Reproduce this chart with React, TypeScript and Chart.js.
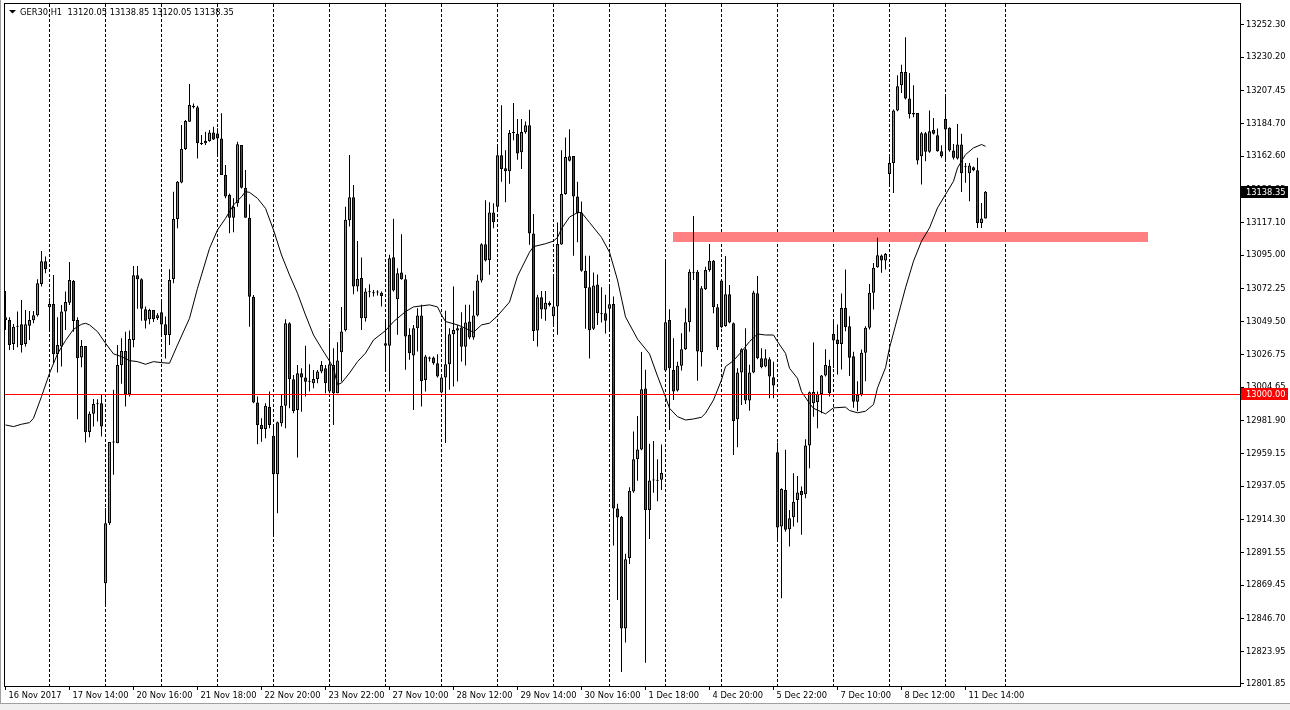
import { useEffect, useRef } from "react";
import { Chart, registerables } from "chart.js";

Chart.register(...registerables);

// ---- Data (GER30, H1) ----
const opens = [
13052.5,13050.7,13034.3,13046.8,13047.7,13034.3,13046.8,13050.5,13053.9,13075.3,
13090.8,13059.3,13061.6,13027.2,13032.5,13056.4,13062.5,13077.3,13050.7,13025.0,
13032.9,12974.1,12986.5,12993.3,12993.7,12870.7,12911.7,12967.3,12966.4,13019.9,
13029.5,12999.9,13037.0,13081.2,13078.5,13058.0,13051.1,13057.5,13051.8,13055.9,
13047.7,13040.4,13078.7,13119.7,13144.7,13167.5,13186.2,13197.1,13196.0,13171.6,
13171.4,13173.0,13178.9,13178.2,13174.8,13149.8,13136.1,13120.6,13130.4,13170.3,
13141.1,13120.6,13066.6,12994.2,12978.9,12976.2,12991.4,12971.6,12945.2,12980.0,
12992.1,13048.4,13010.1,12989.2,13014.2,13011.3,13008.9,13007.4,13010.3,13015.4,
13017.6,13001.7,13019.9,13000.6,13028.6,13043.7,13118.9,13134.6,13073.5,13079.4,
13051.9,13070.1,13069.6,13069.5,13069.2,13034.8,13033.0,13093.6,13064.9,13083.1,
13078.5,13040.5,13026.4,13045.0,13053.7,13009.7,13025.0,13025.0,13021.1,13001.1,
13011.3,13020.4,13040.9,13043.5,13045.5,13032.3,13049.6,13038.7,13053.7,13077.6,
13102.4,13091.7,13124.1,13128.1,13163.3,13154.4,13152.4,13178.5,13178.0,13165.3,
13179.0,13183.8,13109.7,13043.4,13066.2,13057.8,13062.4,13053.3,13059.8,13102.3,
13136.7,13159.5,13162.8,13135.0,13124.1,13084.4,13073.0,13044.7,13075.0,13055.3,
13055.3,13058.3,13061.6,12921.8,12916.2,12839.8,12887.9,12933.4,12955.4,12962.2,
13003.9,12920.8,12941.0,12941.5,12941.5,13016.1,13050.7,13016.5,13002.4,13019.3,
13030.6,13049.1,13083.7,13083.7,13028.6,13071.6,13084.9,13091.2,13059.3,13077.6,
13046.6,13068.2,13048.4,12982.8,13014.7,13030.6,12995.6,13014.7,13068.9,13024.5,
13018.8,13023.8,13011.5,12960.3,12909.5,12934.5,12907.6,12915.8,12927.7,12933.8,
12931.6,12964.8,12993.7,12994.4,13000.1,13012.7,13019.3,13041.2,13037.3,13034.3,
13058.9,13046.4,13025.9,12994.7,12999.7,13028.2,13045.3,13069.2,13086.7,13094.7,
13091.3,13150.5,13158.0,13193.8,13211.1,13220.2,13202.0,13192.2,13192.2,13162.6,
13178.3,13165.6,13180.6,13177.0,13166.0,13188.1,13182.0,13166.5,13161.0,13170.6,
13155.8,13151.0,13155.1,13153.0,13117.0,13120.05
];

const highs = [
13070.5,13052.5,13048.0,13056.4,13064.4,13057.5,13056.8,13056.8,13078.5,13097.8,
13094.0,13065.5,13081.4,13052.5,13060.9,13070.1,13090.3,13078.0,13052.5,13037.0,
13032.9,12988.1,12996.7,12996.5,12999.4,12922.0,12967.3,13002.9,13033.6,13038.2,
13042.7,13043.4,13087.6,13087.6,13079.2,13059.8,13058.4,13057.5,13055.2,13064.4,
13053.0,13085.3,13138.4,13145.7,13183.9,13187.3,13211.9,13198.7,13197.1,13177.1,
13179.4,13180.5,13182.8,13181.7,13191.9,13156.6,13137.2,13133.8,13172.5,13170.3,
13153.2,13129.7,13067.8,12998.3,12983.5,12993.7,13001.7,12978.9,12981.2,12999.4,
13051.1,13049.1,13013.1,13019.9,13017.6,13033.1,13020.4,13016.5,13016.5,13022.6,
13019.9,13045.0,13031.4,13035.5,13059.6,13128.0,13163.5,13143.0,13104.7,13093.3,
13072.4,13075.1,13071.2,13071.0,13070.1,13049.6,13095.2,13119.8,13086.0,13109.3,
13081.5,13045.0,13047.3,13058.7,13061.0,13026.8,13025.7,13025.7,13027.3,13012.0,
13056.9,13045.0,13073.5,13047.3,13056.0,13061.0,13061.0,13070.6,13081.5,13103.1,
13132.5,13131.2,13130.5,13169.2,13197.4,13166.6,13180.5,13198.9,13188.1,13188.1,
13186.3,13194.4,13123.1,13067.9,13070.5,13070.5,13063.4,13081.8,13117.3,13166.6,
13175.4,13181.0,13162.8,13145.1,13131.7,13094.5,13094.5,13083.1,13081.8,13073.0,
13067.9,13075.0,13066.7,12925.1,12916.7,12890.9,12936.4,12974.4,12985.0,13028.7,
13016.6,12966.0,12968.0,12955.4,12965.5,13090.6,13058.0,13038.2,13022.2,13041.6,
13058.7,13085.3,13121.8,13084.9,13073.9,13087.1,13102.6,13091.7,13061.6,13078.0,
13094.4,13074.6,13048.9,13017.7,13031.3,13045.0,13020.0,13070.7,13080.8,13031.3,
13030.6,13025.2,13022.2,12966.9,12935.7,12961.9,12920.8,12945.9,12944.1,12936.8,
12969.1,13001.7,13035.2,13001.7,13013.1,13030.6,13023.4,13049.8,13047.6,13068.7,
13085.1,13053.2,13028.9,13008.8,13030.5,13046.4,13075.3,13089.7,13106.8,13095.4,
13096.5,13162.6,13194.5,13218.0,13225.2,13243.9,13219.5,13211.1,13192.2,13179.2,
13179.2,13193.8,13188.8,13181.5,13170.1,13205.2,13182.4,13171.0,13184.7,13177.9,
13158.0,13158.0,13155.5,13161.5,13130.7,13138.85
];

const lows = [
13043.9,13030.2,13030.2,13032.0,13028.4,13032.5,13037.0,13048.4,13053.0,13073.5,
13082.6,13043.9,13021.1,13014.7,13018.8,13043.9,13060.9,13042.7,12982.8,13018.3,
12966.9,12970.5,12977.8,12981.2,12971.0,12854.8,12910.6,12944.8,12966.4,13007.0,
12991.5,12998.3,13032.0,13058.4,13050.2,13044.8,13047.7,13049.3,13050.7,13040.0,
13024.3,13033.6,13075.7,13113.3,13144.1,13166.8,13186.2,13195.3,13161.1,13170.3,
13170.3,13172.5,13173.7,13162.3,13149.8,13133.8,13109.9,13110.6,13128.1,13140.6,
13120.6,13046.1,12993.7,12965.7,12967.5,12969.8,12976.6,12904.2,12918.5,12977.8,
12976.6,12990.3,12986.9,12956.6,12988.0,12998.3,13001.7,13004.0,13007.4,13014.2,
13000.6,13000.6,12978.9,13000.6,13008.6,13042.8,13114.5,13068.3,13070.1,13043.9,
13049.6,13066.2,13066.7,13067.4,13059.8,13015.4,13001.8,13070.1,13040.5,13078.1,
13016.6,13023.4,12989.2,13029.1,12991.5,13001.8,13022.3,13020.0,13011.3,13000.6,
12966.5,13002.9,13005.2,13008.6,13022.3,13019.5,13037.5,13037.1,13053.0,13076.3,
13090.6,13081.5,13113.4,13125.9,13145.1,13131.2,13143.8,13173.6,13160.2,13153.9,
13178.0,13102.1,13036.3,13032.5,13051.5,13050.2,13059.8,13047.7,13040.6,13102.1,
13136.2,13159.0,13094.5,13103.8,13083.6,13044.7,13024.4,13043.9,13047.2,13049.0,
13041.4,13042.6,12896.5,12859.3,12810.0,12830.2,12883.8,12932.6,12940.7,12961.7,
12816.3,12901.0,12932.6,12926.8,12934.4,13015.4,12975.5,12996.0,13001.7,13016.1,
13030.2,13042.7,13078.0,13009.2,13018.8,13071.2,13083.7,13055.2,13030.2,13045.0,
13046.1,13048.4,12958.4,12963.7,12992.6,12993.3,12988.7,13014.2,13023.8,13017.7,
13018.3,12997.2,12997.2,12900.4,12860.5,12906.0,12895.8,12909.5,12912.2,12903.8,
12928.8,12949.3,12984.6,12976.7,12986.9,13012.0,12998.3,13017.9,13013.4,13016.8,
13043.0,13012.3,12990.6,12988.3,12998.6,13008.8,13044.1,13057.8,13086.3,13082.9,
13085.1,13142.1,13137.5,13193.3,13205.9,13201.3,13188.3,13189.3,13156.9,13143.2,
13159.2,13164.9,13177.4,13165.6,13161.5,13160.3,13165.6,13160.3,13160.3,13138.2,
13144.4,13131.8,13152.3,13113.6,13113.6,13120.05
];

const closes = [
13050.7,13033.6,13046.1,13046.1,13033.6,13047.7,13050.7,13053.9,13075.8,13090.8,
13085.3,13061.6,13027.2,13033.6,13056.4,13063.0,13078.0,13050.0,13024.5,13032.9,
12973.9,12986.5,12993.3,12993.0,12977.8,12911.7,12967.3,12966.9,13019.9,13029.5,
12999.9,13037.7,13081.2,13078.5,13058.4,13050.2,13057.5,13051.1,13053.9,13047.5,
13040.4,13078.0,13119.7,13145.2,13167.5,13186.7,13197.6,13196.0,13171.4,13170.9,
13173.2,13178.9,13174.1,13174.8,13149.8,13135.0,13120.6,13128.1,13170.7,13141.1,
13120.6,13066.6,12994.2,12978.9,12976.2,12992.1,12978.9,12945.2,12980.7,12992.1,
13048.4,13010.1,12988.5,13014.2,13011.3,13008.5,13008.5,13010.3,13015.4,13019.9,
13007.4,13020.4,13000.6,13022.9,13042.8,13119.1,13134.6,13073.5,13078.8,13051.9,
13070.1,13069.6,13069.0,13070.1,13067.1,13033.0,13092.9,13070.8,13082.6,13078.5,
13039.3,13028.0,13045.0,13053.7,13009.0,13025.7,13024.1,13021.1,13012.0,13011.3,
13020.4,13040.9,13043.9,13045.0,13032.3,13048.9,13038.7,13053.7,13077.6,13102.4,
13091.3,13124.1,13117.5,13163.3,13153.9,13152.4,13178.5,13178.7,13164.5,13179.2,
13183.8,13109.7,13043.2,13066.2,13057.8,13062.4,13060.9,13059.8,13102.6,13136.7,
13162.0,13162.5,13135.0,13123.6,13084.4,13072.5,13043.7,13074.3,13055.3,13054.5,
13050.2,13061.4,12921.8,12915.7,12839.8,12887.1,12933.9,12955.4,12962.2,13003.4,
12920.8,12941.0,12941.5,12940.7,12946.0,13049.1,13017.7,13001.7,13019.3,13030.6,
13049.1,13083.7,13083.0,13029.1,13072.3,13084.9,13091.2,13059.3,13032.0,13045.7,
13068.2,13048.9,12981.7,13014.7,13030.6,12995.6,13014.7,13069.4,13024.5,13018.3,
13024.5,13012.0,13005.8,12908.8,12935.2,12907.2,12915.1,12926.5,12932.7,12930.9,
12964.8,13001.3,13001.5,13000.1,13012.7,13019.9,13000.6,13036.6,13034.3,13058.9,
13045.7,13024.8,12994.7,12999.7,13028.2,13045.3,13069.2,13086.3,13094.9,13091.3,
13095.8,13158.0,13193.8,13210.4,13220.2,13202.0,13191.5,13191.1,13159.6,13178.3,
13165.6,13179.7,13177.9,13166.0,13162.6,13180.8,13166.5,13161.5,13170.6,13151.0,
13155.1,13156.2,13153.0,13117.0,13120.0,13138.35
];

// moving average, read at these bar indices
const maBars = [0,2,4,6,7,9,11,13,15,17,19,20,21,23,25,27,29,31,33,35,37,39,41,43,46,48,51,53,55,57,59,60,61,63,65,67,69,71,73,75,77,79,81,82,83,84,86,88,90,92,95,97,100,102,106,108,109,110,113,115,117,119,121,123,126,128,131,132,135,137,138,139,141,143,144,146,149,151,153,155,158,161,163,165,166,168,170,172,174,175,177,179,180,182,184,186,188,190,192,193,195,196,198,199,201,202,205,207,210,211,213,215,217,218,220,221,223,225,227,229,231,233,235,237,238,240,242,244,245];
const maValues = [12978.9,12977.8,12979.4,12980.5,12983.5,12998.3,13014.2,13027.5,13036.6,13044.3,13047.7,13048.4,13047.3,13042.7,13034.8,13027.5,13025.6,13022.9,13022.2,13020.4,13022.2,13021.5,13021.1,13033.6,13051.8,13072.3,13099.6,13112.2,13120.1,13129.3,13134.9,13138.4,13137.9,13133.8,13127.0,13112.2,13095.1,13081.4,13068.9,13054.1,13040.4,13031.3,13022.6,13017.8,13006.5,13007.6,13014.4,13022.2,13028.0,13037.0,13043.4,13049.5,13056.4,13059.6,13061.0,13059.6,13054.1,13049.6,13047.3,13045.0,13042.3,13047.3,13048.5,13053.5,13062.9,13080.6,13097.0,13100.8,13102.8,13104.6,13107.1,13113.0,13121.0,13124.1,13124.1,13117.3,13107.1,13097.0,13078.0,13052.8,13037.6,13027.5,13012.3,12998.0,12990.3,12984.6,12982.3,12983.0,12984.2,12986.9,12996.0,13009.7,13018.8,13022.9,13029.0,13035.9,13041.1,13040.4,13040.4,13035.9,13027.9,13017.7,13010.8,13001.7,12993.7,12990.3,12986.5,12990.6,12991.1,12988.8,12987.2,12988.3,12992.9,13004.3,13018.0,13031.6,13052.1,13072.6,13090.9,13104.5,13113.6,13127.3,13136.4,13145.5,13154.6,13163.7,13168.3,13170.6,13169.4];

const timeLabels = ["16 Nov 2017","17 Nov 14:00","20 Nov 16:00","21 Nov 18:00","22 Nov 20:00","23 Nov 22:00","27 Nov 10:00","28 Nov 12:00","29 Nov 14:00","30 Nov 16:00","1 Dec 18:00","4 Dec 20:00","5 Dec 22:00","7 Dec 10:00","8 Dec 12:00","11 Dec 14:00"];
const labelEvery = 16;
const gridBars = [11,25,39,53,67,81,95,109,123,137,151,165,179,193,207,221,235,250];
const priceTicks = [13252.30,13230.20,13207.45,13184.70,13162.60,13139.85,13117.10,13095.00,13072.25,13049.50,13026.75,13004.65,12981.90,12959.15,12937.05,12914.30,12891.55,12869.45,12846.70,12823.95,12801.85];
const priceMin = 12800.48;
const priceMax = 13266.65;
const barMin = -0.125;
const barMax = 308.625;
const levelPrice = 13000.0;
const lastPrice = 13138.35;
const zoneFromBar = 166.9;
const zoneToBar = 285.6;
const zoneLow = 13104.3;
const zoneHigh = 13110.8;
const titleText = "GER30,H1  13120.05 13138.85 13120.05 13138.35";

const FONT_FAMILY = '"DejaVu Sans", sans-serif';
const FONT_SIZE = 8.3;
const BULL = "#32cd32";
const BEAR = "#ff0000";

const labelBars = timeLabels.map((_, k) => k * labelEvery);
const tickBars = [...labelBars, ...gridBars].sort((a, b) => a - b);

export default function App() {
  const ref = useRef<HTMLCanvasElement | null>(null);

  useEffect(() => {
    const canvas = ref.current;
    if (!canvas) return;
    const font = `${FONT_SIZE}px ${FONT_FAMILY}`;

    const mt4 = {
      id: "mt4",
      beforeDraw(chart: any) {
        const { ctx, width, height } = chart;
        ctx.save();
        ctx.fillStyle = "#ffffff";
        ctx.fillRect(0, 0, width, height);
        ctx.fillStyle = "#f0f0f0";
        ctx.fillRect(0, 704, width, height - 704);
        ctx.fillStyle = "#a0a0a0";
        ctx.fillRect(0, 0, 1, 704);
        ctx.fillRect(0, 703, width, 1);
        ctx.restore();
      },
      beforeDatasetsDraw(chart: any) {
        const { ctx, chartArea } = chart;
        const xs = chart.scales.x;
        const ys = chart.scales.y;
        ctx.save();
        ctx.beginPath();
        ctx.rect(chartArea.left, chartArea.top, chartArea.right - chartArea.left, chartArea.bottom - chartArea.top);
        ctx.clip();
        const x1 = Math.round(xs.getPixelForValue(zoneFromBar));
        const x2 = Math.round(xs.getPixelForValue(zoneToBar));
        const y1 = Math.round(ys.getPixelForValue(zoneHigh));
        const y2 = Math.round(ys.getPixelForValue(zoneLow));
        ctx.fillStyle = "#ff8080";
        ctx.fillRect(x1, y1, x2 - x1, y2 - y1);
        ctx.restore();
      },
      afterDatasetsDraw(chart: any) {
        const { ctx, chartArea } = chart;
        const ys = chart.scales.y;
        ctx.save();
        // level line
        const ly = Math.floor(ys.getPixelForValue(levelPrice)) + 0.5;
        ctx.strokeStyle = "#ff0000";
        ctx.lineWidth = 1;
        ctx.beginPath();
        ctx.moveTo(chartArea.left, ly);
        ctx.lineTo(chartArea.right, ly);
        ctx.stroke();
        // frame
        ctx.strokeStyle = "#000000";
        ctx.strokeRect(chartArea.left - 0.5, chartArea.top - 0.5, chartArea.right - chartArea.left + 1, chartArea.bottom - chartArea.top + 1);
        // title
        ctx.fillStyle = "#000000";
        ctx.beginPath();
        ctx.moveTo(9, 10);
        ctx.lineTo(16, 10);
        ctx.lineTo(12.5, 13.5);
        ctx.closePath();
        ctx.fill();
        ctx.font = font;
        ctx.textBaseline = "middle";
        ctx.textAlign = "left";
        ctx.fillText(titleText, 20, 12.5);
        ctx.restore();
      },
      afterDraw(chart: any) {
        const { ctx, chartArea } = chart;
        const ys = chart.scales.y;
        const tag = (price: number, bg: string) => {
          const y = ys.getPixelForValue(price);
          const top = Math.round(y - 6);
          ctx.fillStyle = bg;
          ctx.fillRect(chartArea.right + 1, top, 47, 12);
          ctx.fillStyle = "#ffffff";
          ctx.font = font;
          ctx.textBaseline = "middle";
          ctx.textAlign = "left";
          ctx.fillText(price.toFixed(2), chartArea.right + 6, top + 6.5);
        };
        ctx.save();
        tag(levelPrice, "#ff0000");
        tag(lastPrice, "#000000");
        ctx.restore();
      },
    };

    const chart = new Chart(canvas, {
      type: "bar",
      data: {
        datasets: [
          {
            type: "line",
            data: maBars.map((b, k) => ({ x: b, y: maValues[k] })),
            borderColor: "#000000",
            borderWidth: 1,
            pointRadius: 0,
            tension: 0,
            order: 1,
          } as any,
          {
            type: "bar",
            data: opens.map((o, i) => ({ x: i, y: [o, closes[i]] })),
            backgroundColor: opens.map((o, i) => (closes[i] >= o ? BULL : BEAR)),
            borderColor: "#000000",
            borderWidth: 1,
            borderSkipped: false,
            grouped: false,
            categoryPercentage: 1,
            barPercentage: 0.75,
            minBarLength: 1,
            inflateAmount: 0,
            order: 2,
          } as any,
          {
            type: "bar",
            data: lows.map((l, i) => ({ x: i, y: [l, highs[i]] })),
            backgroundColor: "#000000",
            borderWidth: 0,
            grouped: false,
            categoryPercentage: 1,
            barPercentage: 0.25,
            inflateAmount: 0,
            order: 3,
          } as any,
        ],
      },
      options: {
        responsive: false,
        devicePixelRatio: 1,
        animation: false,
        events: [],
        layout: { padding: { left: 5, top: 4, right: 0, bottom: 0 } },
        plugins: { legend: { display: false }, tooltip: { enabled: false }, title: { display: false } },
        scales: {
          x: {
            type: "linear",
            position: "bottom",
            min: barMin,
            max: barMax,
            offset: false,
            afterBuildTicks: (s: any) => {
              s.ticks = tickBars.map((v) => ({ value: v }));
            },
            afterFit: (s: any) => {
              s.height = 24;
              s.paddingLeft = 0;
              s.paddingRight = 0;
            },
            ticks: {
              autoSkip: false,
              maxRotation: 0,
              minRotation: 0,
              align: "start",
              labelOffset: 3,
              padding: 1,
              color: "#000000",
              font: { family: FONT_FAMILY, size: FONT_SIZE },
              callback: (v: any) => {
                const k = labelBars.indexOf(Number(v));
                return k >= 0 ? timeLabels[k] : "";
              },
            },
            grid: {
              display: true,
              offset: false,
              drawOnChartArea: true,
              drawTicks: true,
              tickLength: 4,
              lineWidth: 1,
              tickWidth: 1,
              color: (c: any) => (c.tick && gridBars.includes(c.tick.value) ? "#000000" : "rgba(0,0,0,0)"),
              tickColor: (c: any) => (c.tick && labelBars.includes(c.tick.value) ? "#000000" : "rgba(0,0,0,0)"),
            },
            border: { display: false, dash: [3, 2] },
          } as any,
          y: {
            type: "linear",
            position: "right",
            min: priceMin,
            max: priceMax,
            stacked: false,
            afterBuildTicks: (s: any) => {
              s.ticks = priceTicks.map((v) => ({ value: v }));
            },
            afterFit: (s: any) => {
              s.width = 50;
              s.paddingTop = 0;
              s.paddingBottom = 0;
            },
            ticks: {
              autoSkip: false,
              padding: 2,
              color: "#000000",
              font: { family: FONT_FAMILY, size: FONT_SIZE },
              callback: (v: any) => Number(v).toFixed(2),
            },
            grid: {
              display: true,
              drawOnChartArea: false,
              drawTicks: true,
              tickLength: 4,
              tickColor: "#000000",
            },
            border: { display: false },
          } as any,
        },
      },
      plugins: [mt4 as any],
    });

    return () => chart.destroy();
  }, []);

  return (
    <div style={{ position: "fixed", left: 0, top: 0, width: 1290, height: 710, background: "#ffffff" }}>
      <canvas ref={ref} width={1290} height={710} style={{ display: "block", width: "1290px", height: "710px" }} />
    </div>
  );
}
